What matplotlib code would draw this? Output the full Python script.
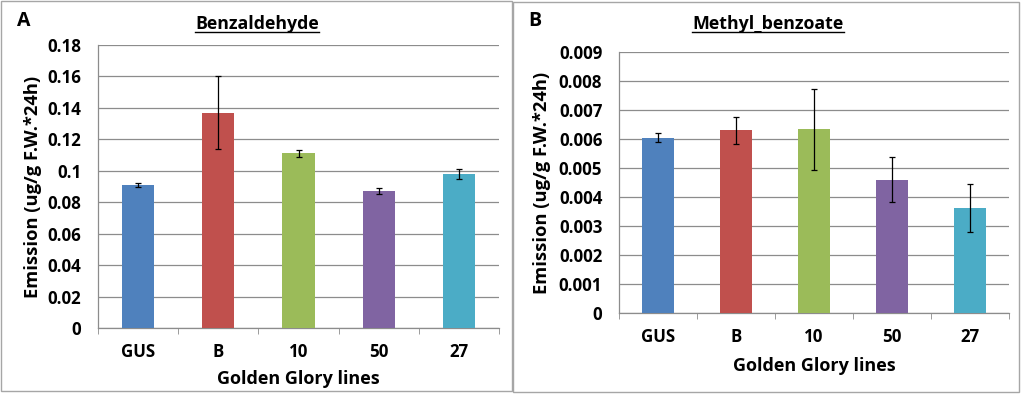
import numpy as np
import matplotlib
matplotlib.use('Agg')
import matplotlib.pyplot as plt
from matplotlib.patches import Rectangle
from matplotlib.lines import Line2D

plt.rcParams['font.family'] = ['Open Sans', 'DejaVu Sans']
plt.rcParams['font.weight'] = 'bold'

lines = ['GUS', 'B', '10', '50', '27']
colors = ['#4F81BD', '#C0504D', '#9BBB59', '#8064A2', '#4BACC6']

benz_mean = [0.091, 0.137, 0.111, 0.087, 0.098]
benz_err = [0.0015, 0.023, 0.0025, 0.002, 0.003]
benz_ticks = [0, 0.02, 0.04, 0.06, 0.08, 0.1, 0.12, 0.14, 0.16, 0.18]
benz_ticklabels = ['0', '0.02', '0.04', '0.06', '0.08', '0.1', '0.12', '0.14', '0.16', '0.18']

mb_mean = [0.00605, 0.0063, 0.00633, 0.0046, 0.00362]
mb_err = [0.00017, 0.00047, 0.0014, 0.00077, 0.00082]
mb_ticks = [0, 0.001, 0.002, 0.003, 0.004, 0.005, 0.006, 0.007, 0.008, 0.009]
mb_ticklabels = ['0', '0.001', '0.002', '0.003', '0.004', '0.005', '0.006', '0.007', '0.008', '0.009']

W, H = 1024, 394
fig = plt.figure(figsize=(W / 100, H / 100), dpi=100)
renderer = fig.canvas.get_renderer()

GRID = '#8c8c8c'


def fit_size(text, target_px, base=12.0):
  # font size giving the wanted text width in pixels
  t = fig.text(0, 0, text, fontsize=base, fontweight='bold')
  w = t.get_window_extent(renderer).width
  t.remove()
  return base * target_px / w


TICK_FS = fit_size('0.18', 34)
YLAB_FS = fit_size('Emission (ug/g F.W.*24h)', 222)
XLAB_FS = fit_size('Golden Glory lines', 164)
TITLE_FS = fit_size('Benzaldehyde', 124)


def px_box(l, t, r, b):
  return [l / W, 1 - b / H, (r - l) / W, (b - t) / H]


def panel(box, means, errs, ticks, ticklabels, ylab_x, xlab_y, tick_pad):
  ax = fig.add_axes(px_box(*box))
  x = np.arange(len(lines))
  ax.bar(x, means, width=0.4, color=colors, zorder=3)
  ax.errorbar(x, means, yerr=errs, fmt='none', ecolor='black', elinewidth=0.9,
              capsize=2.5, capthick=0.9, zorder=4)
  ax.set_xlim(-0.5, len(lines) - 0.5)
  ax.set_ylim(ticks[0], ticks[-1])
  ax.set_yticks(ticks)
  ax.set_yticklabels(ticklabels, fontsize=TICK_FS, fontweight='bold')
  ax.yaxis.grid(True, color=GRID, linewidth=0.9, zorder=0)
  ax.set_axisbelow(True)
  ax.tick_params(axis='y', length=0, pad=12)
  ax.set_xticks(x)
  ax.set_xticklabels(lines, fontsize=TICK_FS, fontweight='bold')
  ax.set_xticks(np.arange(len(lines) + 1) - 0.5, minor=True)
  ax.tick_params(axis='x', which='major', length=0, pad=tick_pad)
  ax.tick_params(axis='x', which='minor', length=4, color=GRID, direction='out')
  for s in ['top', 'right']:
    ax.spines[s].set_visible(False)
  for s in ['left', 'bottom']:
    ax.spines[s].set_color(GRID)
    ax.spines[s].set_linewidth(0.9)
  ax.set_ylabel('Emission (ug/g F.W.*24h)', fontsize=YLAB_FS, fontweight='bold', va='center')
  ax.yaxis.set_label_coords(ylab_x, 0.5)
  ax.set_xlabel('Golden Glory lines', fontsize=XLAB_FS, fontweight='bold', va='center')
  ax.xaxis.set_label_coords(0.5, xlab_y)
  return ax


axA = panel((98, 45, 499, 328), benz_mean, benz_err, benz_ticks, benz_ticklabels,
            -0.162, -0.18, 10.5)
axB = panel((619, 52, 1009, 313), mb_mean, mb_err, mb_ticks, mb_ticklabels,
            -0.197, -0.203, 11)

# panel frames
fig.patches.append(Rectangle((1 / W, 1 - 391 / H), 511 / W, 390 / H, transform=fig.transFigure,
                             fill=False, edgecolor='#a6a6a6', linewidth=1))
fig.patches.append(Rectangle((513 / W, 1 - 392 / H), 506 / W, 390 / H, transform=fig.transFigure,
                             fill=False, edgecolor='#a6a6a6', linewidth=1))

fig.text(24 / W, 1 - 21 / H, 'A', fontsize=TICK_FS * 1.15, fontweight='bold', ha='center', va='center')
fig.text(535 / W, 1 - 21 / H, 'B', fontsize=TICK_FS * 1.15, fontweight='bold', ha='center', va='center')

titles = [
  fig.text(257 / W, 1 - 24 / H, 'Benzaldehyde', fontsize=TITLE_FS, fontweight='bold', ha='center', va='center'),
  fig.text(768 / W, 1 - 24 / H, 'Methyl_benzoate', fontsize=TITLE_FS, fontweight='bold', ha='center', va='center'),
]

# underline the titles
fig.canvas.draw()
for t in titles:
  bb = t.get_window_extent(renderer)
  yline = 1 - 32 / H
  fig.lines.append(Line2D([bb.x0 / W, bb.x1 / W], [yline, yline], transform=fig.transFigure,
                          color='black', linewidth=1))

fig.savefig('out.png', dpi=100)
